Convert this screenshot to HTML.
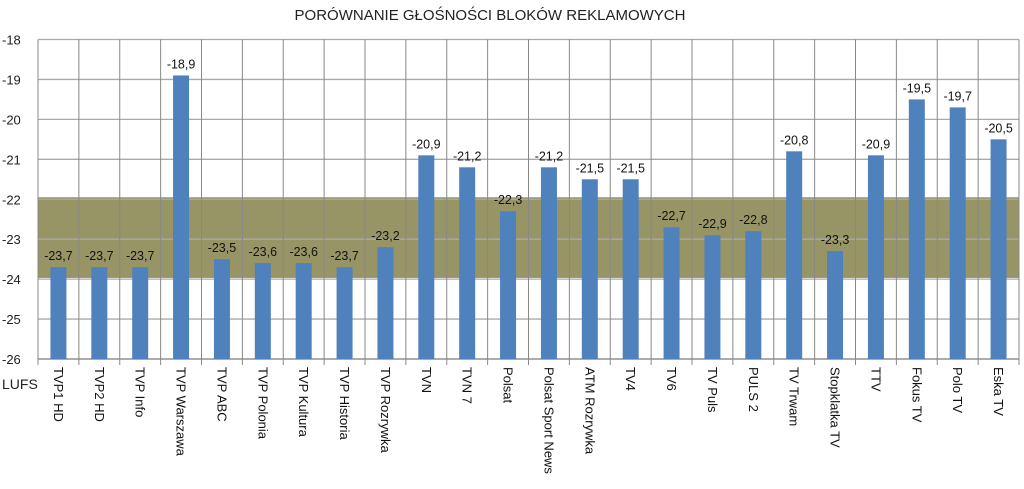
<!DOCTYPE html>
<html><head><meta charset="utf-8"><style>
body{margin:0;background:#fff;}
svg text{font-family:"Liberation Sans",sans-serif;}
</style></head><body>
<svg id="c" width="1024" height="484" xmlns="http://www.w3.org/2000/svg"></svg>
<script>
const categories=["TVP1 HD","TVP2 HD","TVP Info","TVP Warszawa","TVP ABC","TVP Polonia","TVP Kultura","TVP Historia","TVP Rozrywka","TVN","TVN 7","Polsat","Polsat Sport News","ATM Rozrywka","TV4","TV6","TV Puls","PULS 2","TV Trwam","Stopklatka TV","TTV","Fokus TV","Polo TV","Eska TV"];
const values=[-23.7,-23.7,-23.7,-18.9,-23.5,-23.6,-23.6,-23.7,-23.2,-20.9,-21.2,-22.3,-21.2,-21.5,-21.5,-22.7,-22.9,-22.8,-20.8,-23.3,-20.9,-19.5,-19.7,-20.5];
const yTicks=[-18,-19,-20,-21,-22,-23,-24,-25,-26];
const band=[-21.95,-23.97];
const svg=document.getElementById('c');const NS='http://www.w3.org/2000/svg';
const L=38,R=1019,T=39.5,B=359,yMin=-26,yMax=-18;
const y=v=>B-(v-yMin)/(yMax-yMin)*(B-T);
const cw=(R-L)/categories.length;const x=i=>L+i*cw;
function mk(t,a,p){const e=document.createElementNS(NS,t);for(const k in a)e.setAttribute(k,a[k]);(p||svg).appendChild(e);return e;}
let t=mk('text',{x:490,y:20,'text-anchor':'middle','font-size':15,fill:'#222'});t.textContent='PORÓWNANIE GŁOŚNOŚCI BLOKÓW REKLAMOWYCH';


let bd=mk('rect',{x:L,y:y(band[0]),width:R-L,height:y(band[1])-y(band[0]),fill:'#979566'});


yTicks.forEach(v=>{const g=mk('line',{x1:L,x2:R,y1:y(v),y2:y(v),stroke:'#aaa','stroke-width':1.3});


const tx=mk('text',{x:2,y:y(v)+5,'font-size':13,fill:'#222'});tx.textContent=v;

});
for(let i=0;i<=categories.length;i++){const g=mk('line',{x1:x(i),x2:x(i),y1:T,y2:B+6,stroke:'#888','stroke-width':1});

}
mk('line',{x1:L,x2:R,y1:B,y2:B,stroke:'#888','stroke-width':1.3});
categories.forEach((c,i)=>{const cx=x(i)+cw/2;const v=values[i];
const b=mk('rect',{x:cx-8,y:y(v),width:16,height:B-y(v),fill:'#4f81bd'});


const lb=mk('text',{x:cx,y:y(v)-7,'text-anchor':'middle','font-size':12.5,fill:'#111'});lb.textContent=String(v).replace('.',',');


const cl=mk('text',{transform:`translate(${cx-4.5},367) rotate(90)`,'font-size':13,fill:'#111'});cl.textContent=c;

});
const u=mk('text',{x:2,y:389,'font-size':14,fill:'#222'});u.textContent='LUFS';


</script></body></html>
